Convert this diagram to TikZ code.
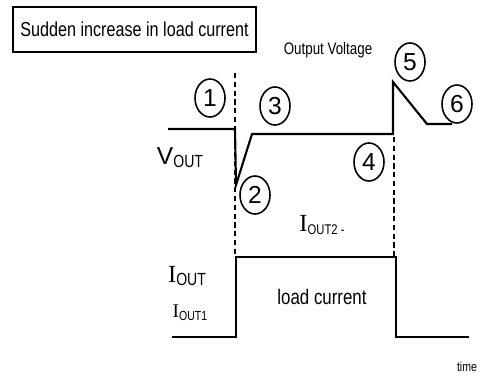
\documentclass[tikz,border=0pt]{standalone}
\usepackage{fontspec}
\setmainfont{Liberation Sans}
\newfontfamily\narrowfont[FakeStretch=0.8]{Liberation Sans}
\newfontfamily\romanfont{Liberation Serif}
\usetikzlibrary{shapes.geometric,positioning}

% letter with a lowered index, sizes given
\newcommand{\idxlabel}[5]{{#1\fontsize{#2}{#2}\selectfont #3}\raisebox{-0.35ex}{\narrowfont\fontsize{#4}{#4}\selectfont #5}}

\begin{document}
\begin{tikzpicture}[
  x=0.02cm, y=-0.02cm,
  wave/.style={line width=1.2pt},
  guide/.style={dash pattern=on 3pt off 2pt, line width=0.8pt},
  num/.style={ellipse, draw, line width=0.9pt, inner sep=0pt,
              minimum width=0.6cm, minimum height=0.76cm,
              font=\fontsize{14}{14}\selectfont},
  lbl/.style={inner sep=0pt}
]
  \useasboundingbox (0,0) rectangle (483,381);

  % Legende
  \node[draw, line width=0.8pt, minimum width=4.86cm, minimum height=0.9cm,
        font=\narrowfont\fontsize{11.5}{12}\selectfont]
    (legend) at (134.5,29.5) {Sudden increase in load current};
  \node[lbl, font=\narrowfont\fontsize{9.5}{10}\selectfont]
    (title) at (328,50) {Output Voltage};

  % Points de la tension
  \coordinate (v0) at (168,129);
  \coordinate (v1) at (235,129);
  \coordinate (v2) at (236,185);
  \coordinate (v3) at (252,134);
  \coordinate (v4) at (393,134);
  \coordinate (v5) at (393,82);
  \coordinate (v6) at (427,124);
  \coordinate (v7) at (452,124);

  % Points du courant
  \coordinate (i0) at (172,337);
  \coordinate (i1) at (236,337);
  \coordinate (i2) at (236,257);
  \coordinate (i3) at (396,257);
  \coordinate (i4) at (396,337);
  \coordinate (i5) at (469,337);

  % Reperes
  \coordinate (g1a) at (235,73);
  \coordinate (g1b) at (235,257);
  \coordinate (g2a) at (394,137);
  \coordinate (g2b) at (394,257);

  \draw[guide] (g1a) -- (g1b);
  \draw[guide] (g2a) -- (g2b);

  \draw[wave] (v0) -- (v1) -- (v2) -- (v3) -- (v4) -- (v5) -- (v6) -- (v7);
  \draw[wave] (i0) -- (i1) -- (i2) -- (i3) -- (i4) -- (i5);

  % Numeros
  \node[num] (n1) at (210,98)  {1};
  \node[num] (n2) at (255,195) {2};
  \node[num] (n3) at (275,106) {3};
  \node[num] (n4) at (369,162) {4};
  \node[num] (n5) at (410,62)  {5};
  \node[num] (n6) at (457,104) {6};

  % Etiquettes
  \node[lbl] (vout) at (180,158) {\idxlabel{}{14}{V}{10}{OUT}};
  \node[lbl] (iout2) at (322,225) {\idxlabel{\romanfont}{14}{I}{8}{OUT2 -}};
  \node[lbl] (iout) at (187,276) {\idxlabel{\romanfont}{14}{I}{10}{OUT}};
  \node[lbl] (iout1) at (190,313) {\idxlabel{\romanfont}{11}{I}{7.5}{OUT1}};
  \node[lbl, font=\narrowfont\fontsize{12}{12}\selectfont]
    (load) at (322,297) {load current};
  \node[lbl, font=\narrowfont\fontsize{7.5}{8}\selectfont]
    (time) at (467,367) {time};

\end{tikzpicture}
\end{document}
